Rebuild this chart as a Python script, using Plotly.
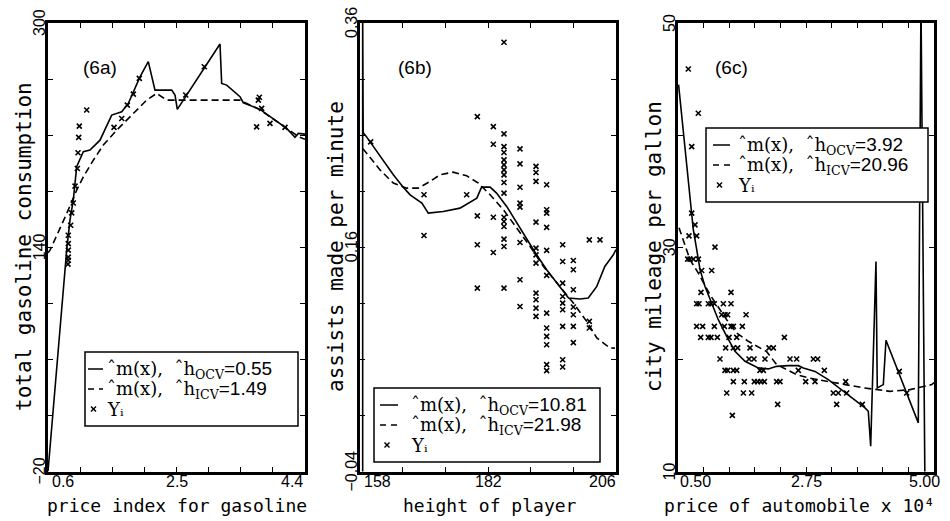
import plotly.graph_objects as go

W, H = 950, 521

# ---------------- Panel (6a) ----------------
a_solid_x = [0.6, 0.876, 0.925, 0.974, 1.024, 1.122, 1.221, 1.369, 1.542, 1.690, 1.787, 1.960, 2.083,
             2.182, 2.429, 2.478, 2.512, 3.143, 3.168, 3.242, 3.439, 3.488, 3.735, 3.931, 4.129, 4.252, 4.301, 4.4]
a_solid_y = [-20, 137.9, 159.3, 173.6, 197.4, 208.1, 209.3, 216.4, 234.3, 236.6, 242.6, 261.6, 272.4,
             252.1, 252.1, 248.6, 238.4, 285.0, 256.9, 255.7, 247.4, 243.1, 238.4, 231.9, 224.8, 218.4, 221.2, 220.7]
a_dash_x = [0.6, 0.63, 0.876, 1.024, 1.122, 1.270, 1.418, 1.616, 1.764, 1.912, 2.059, 2.207, 2.355,
            2.552, 2.947, 3.439, 3.538, 3.735, 3.931, 4.129, 4.301, 4.4]
a_dash_y = [136, 137.9, 164, 180.7, 190.2, 202.1, 212.9, 223.6, 230.7, 237.9, 245, 249.8, 245,
            245, 245, 245, 242.6, 238.0, 231.5, 224.5, 219, 217]
a_pts_x = [1.172, 1.063, 1.054, 1.044, 1.034, 1.000, 0.974, 0.950, 0.935, 0.900, 0.900, 0.900, 0.900, 0.900, 0.895,
           1.576, 1.690, 1.773, 1.862, 1.950, 2.636, 2.911, 3.685, 3.710, 3.725, 3.759, 3.882, 4.104]
a_pts_y = [237.9, 226.4, 218.4, 207.4, 196.2, 183.6, 171.6, 164.5, 155.7, 148.6, 142.6, 137.9, 133.0, 130.7, 128.0,
           225.5, 231.9, 241.4, 249.3, 260.5, 248.6, 268.8, 225.9, 245.0, 247.0, 239.1, 228.4, 225.5]

# ---------------- Panel (6b) ----------------
b_solid_x = [158.5, 158.5, 158.6, 159.1, 161.75, 164.25, 166.1, 167.4, 169.6, 170.8, 173.6, 176.75, 179.9,
             180.8, 182.4, 183.6, 185.5, 187.4, 189.25, 191.1, 193.0, 195.5, 197.1, 199.25, 200.8, 202.4,
             203.9, 205.5, 206.0]
b_solid_y = [-0.05, 0.37, 0.262, 0.2593, 0.2409, 0.2246, 0.2136, 0.2068, 0.1993, 0.1904, 0.1919, 0.1949, 0.2038,
             0.2136, 0.2136, 0.2083, 0.1964, 0.1815, 0.1667, 0.1533, 0.1399, 0.1251, 0.1147, 0.1138, 0.1147, 0.1251,
             0.1429, 0.1533, 0.158]
b_dash_x = [158.5, 159.25, 161.75, 164.25, 166.75, 168.9, 171.1, 173.0, 175.5, 178.0, 180.2, 182.4, 184.9,
            187.4, 189.9, 192.4, 194.9, 198.0, 200.5, 202.4, 204.9, 205.8]
b_dash_y = [0.248, 0.2439, 0.229, 0.2172, 0.2127, 0.2127, 0.2186, 0.2246, 0.227, 0.2237, 0.2172, 0.2068, 0.1934,
            0.1771, 0.1607, 0.1429, 0.1281, 0.1103, 0.0939, 0.0791, 0.0701, 0.070]
b_pts_x = [160, 170, 170, 178,
           180, 180, 180, 180,
           183, 183, 183, 183,
           185, 185, 185, 185, 185, 185, 185, 185, 185, 185, 185, 185, 185, 185, 185, 185,
           188, 188, 188, 188, 188, 188, 188, 188,
           191, 191, 191, 191, 191, 191, 191, 191, 191, 191, 191,
           193, 193, 193, 193, 193, 193, 193, 193, 193, 193, 193, 193,
           196, 196, 196, 196, 196, 196, 196, 196, 196,
           198, 198, 198, 198, 198, 198, 198,
           201, 201, 201, 203]
b_pts_y = [0.254, 0.2068, 0.1705, 0.2068,
           0.2765, 0.188, 0.1622, 0.1236,
           0.2676, 0.2519, 0.1868, 0.1553,
           0.3428, 0.2611, 0.2498, 0.2445, 0.2379, 0.2335, 0.229, 0.2246, 0.2177, 0.2083, 0.1868, 0.183, 0.1785,
           0.1672, 0.1607, 0.1236,
           0.2477, 0.2343, 0.2135, 0.1993, 0.1958, 0.1642, 0.131, 0.1072,
           0.2321, 0.2267, 0.2187, 0.1824, 0.1592, 0.1532, 0.1458, 0.1191, 0.1132, 0.1057, 0.0983,
           0.2157, 0.1934, 0.1904, 0.1777, 0.1572, 0.1349, 0.1013, 0.088, 0.0805, 0.073, 0.0553, 0.050,
           0.1622, 0.1473, 0.128, 0.1161, 0.1102, 0.1043, 0.0894, 0.0597, 0.0532,
           0.1482, 0.1399, 0.1221, 0.1067, 0.0998, 0.0894, 0.075,
           0.1666, 0.0939, 0.088, 0.1666]

# ---------------- Panel (6c) ----------------
c_solid_x = [0.51, 0.769, 0.829, 0.887, 0.975, 1.092, 1.208, 1.356, 1.502, 1.678, 1.911, 2.087, 2.235, 2.439,
             2.615, 2.703, 2.908, 3.142, 3.377, 3.611, 3.787, 3.845, 3.887, 3.980, 4.003, 4.109, 4.156, 4.724,
             4.771, 4.842]
c_solid_y = [44.5, 31.56, 29.78, 28.0, 26.5, 25.03, 23.54, 22.05, 20.72, 19.83, 19.24, 19.15, 19.38, 19.44,
             19.44, 19.24, 18.93, 18.19, 17.30, 16.41, 15.67, 15.37, 12.25, 28.73, 17.46, 17.75, 21.70, 14.34,
             52.0, 8.0]
c_dash_x = [0.518, 0.593, 0.711, 0.857, 1.062, 1.356, 1.532, 1.736, 2.059, 2.235, 2.587, 2.790, 3.290, 3.757,
            4.227, 4.578, 4.960, 5.0]
c_dash_y = [31.74, 30.67, 28.89, 27.70, 25.77, 23.54, 22.35, 21.61, 20.69, 19.53, 18.64, 18.35, 17.90, 17.46,
            17.15, 17.30, 17.75, 17.93]
c_pts_x = [0.681, 0.857, 0.741, 0.741, 0.799,
           0.693, 0.828, 1.150,
           0.670, 0.711, 0.770, 0.858,
           0.916, 1.092, 0.904, 1.432,
           0.828, 0.869, 1.033, 1.080, 1.139, 1.297, 1.432,
           1.268, 1.326, 1.373, 1.696,
           0.828, 0.934, 1.139, 1.315, 1.432, 1.473, 1.631,
           0.899, 1.033, 1.080, 1.192, 1.397, 1.532, 2.370,
           1.338, 1.473, 1.549, 1.766, 2.100, 2.176,
           1.238, 1.748, 1.836, 2.029, 2.469, 2.586, 2.879, 2.955,
           1.326, 1.373, 1.473, 1.532, 1.941, 2.000, 2.615, 3.072,
           1.473, 1.666, 1.842, 1.900, 1.959, 2.018, 2.234, 2.293, 2.744, 2.908, 3.447,
           1.356, 1.649, 1.795, 3.230, 3.318, 3.465,
           2.252, 3.289, 3.740, 1.455, 4.390, 4.520]
c_pts_y = [45.9, 41.95, 38.98, 33.04, 32.0,
           31.02, 31.02, 30.01,
           28.94, 28.94, 28.94, 28.94,
           27.93, 27.93, 25.97, 25.97,
           24.96, 24.96, 24.96, 24.96, 24.96, 24.96, 24.96,
           23.98, 23.98, 23.98, 23.98,
           22.94, 22.94, 22.94, 22.94, 22.94, 22.94, 22.94,
           21.96, 21.96, 21.96, 21.96, 21.96, 21.96, 21.96,
           21.02, 21.02, 21.02, 21.02, 21.02, 21.02,
           20.03, 20.03, 20.03, 20.03, 20.03, 20.03, 20.03, 20.03,
           19.02, 19.02, 19.02, 19.02, 19.02, 19.02, 19.02, 19.02,
           18.01, 18.01, 18.01, 18.01, 18.01, 18.01, 18.01, 18.01, 18.01, 18.01, 18.01,
           17.0, 17.0, 17.0, 17.0, 17.0, 17.0,
           15.99, 15.99, 15.99, 15.01, 18.93, 17.0]

# ---------------- Panel specs ----------------
panels = [
    dict(tag="(6a)", xr=[0.6, 4.4], yr=[-20, 300], xstep=0.475, ystep=40,
         xlab=["0.6", "2.5", "4.4"], xlabv=[0.6, 2.5, 4.4],
         ylab=["\u221220", "140", "300"], ylabv=[-20, 140, 300],
         xtitle="price index for gasoline", ytitle="total gasoline consumption",
         h_ocv="0.55", h_icv="1.49",
         solid=(a_solid_x, a_solid_y), dash=(a_dash_x, a_dash_y), pts=(a_pts_x, a_pts_y),
         px=(48, 305), tagpos=(100, 67), xlshift=(2, 0, 0), xtshift=0,
         leg=dict(box=(85, 352, 213, 74), samp=(3, 18), txt=21)),
    dict(tag="(6b)", xr=[158, 206], yr=[-0.04, 0.36], xstep=8, ystep=0.05,
         xlab=["158", "182", "206"], xlabv=[158, 182, 206],
         ylab=["\u22120.04", "0.16", "0.36"], ylabv=[-0.04, 0.16, 0.36],
         xtitle="height of player", ytitle="assists made per minute",
         h_ocv="10.81", h_icv="21.98",
         solid=(b_solid_x, b_solid_y), dash=(b_dash_x, b_dash_y), pts=(b_pts_x, b_pts_y),
         px=(360, 616), tagpos=(415, 67), xlshift=(2, 0, 2), xtshift=2,
         leg=dict(box=(374, 388, 226, 74), samp=(6, 24), txt=36)),
    dict(tag="(6c)", xr=[0.5, 5.0], yr=[10, 50], xstep=0.45, ystep=10,
         xlab=["0.50", "2.75", "5.00"], xlabv=[0.5, 2.75, 5.0],
         ylab=["10", "30", "50"], ylabv=[10, 30, 50],
         xtitle="price of automobile x 10\u2074", ytitle="city mileage per gallon",
         h_ocv="3.92", h_icv="20.96",
         solid=(c_solid_x, c_solid_y), dash=(c_dash_x, c_dash_y), pts=(c_pts_x, c_pts_y),
         px=(678, 934), tagpos=(731, 67), xlshift=(0, 0, 8), xtshift=-7,
         leg=dict(box=(706, 128, 222, 74), samp=(7, 24), txt=31)),
]
LEG_ROWS = [17, 37, 57]   # row centres below legend-box top (px)

TOP, BOT = 23, 471.5
fig = go.Figure()
annotations = []
shapes = []
layout = dict(width=W, height=H, margin=dict(l=0, r=0, t=0, b=0),
              paper_bgcolor="white", plot_bgcolor="white", showlegend=False)

tick_font = dict(family="Liberation Sans", size=16, color="black")
title_font_x = dict(family="DejaVu Sans Mono", size=18, color="black")
title_font_y = dict(family="DejaVu Sans Mono", size=21, color="black")
leg_font = dict(family="DejaVu Serif", size=18, color="black")
NUM_STYLE = "font-family:Liberation Sans;font-size:19px"


def px2x(v):
    return v / W


def py2y(v):
    return 1 - v / H


for i, p in enumerate(panels):
    n = i + 1
    xa = "x" if n == 1 else f"x{n}"
    ya = "y" if n == 1 else f"y{n}"
    x0, x1 = p["px"]
    nx = round((p["xr"][1] - p["xr"][0]) / p["xstep"])
    ny = round((p["yr"][1] - p["yr"][0]) / p["ystep"])
    xt = [p["xr"][0] + k * p["xstep"] for k in range(nx + 1)]
    yt = [p["yr"][0] + k * p["ystep"] for k in range(ny + 1)]
    axis_common = dict(showline=True, linewidth=2.5, linecolor="black", mirror="allticks",
                       ticks="inside", ticklen=5, tickwidth=1.2, tickcolor="black",
                       showgrid=False, zeroline=False, showticklabels=False, fixedrange=True)
    layout["xaxis" if n == 1 else f"xaxis{n}"] = dict(
        domain=[x0 / W, x1 / W], range=p["xr"], tickvals=xt, anchor=ya, **axis_common)
    layout["yaxis" if n == 1 else f"yaxis{n}"] = dict(
        domain=[1 - BOT / H, 1 - TOP / H], range=p["yr"], tickvals=yt, anchor=xa, **axis_common)

    name_solid = ("\u02c6m(x),\u00a0\u00a0\u02c6h<sub>OCV</sub>"
                  f"<span style='{NUM_STYLE}'>={p['h_ocv']}</span>")
    name_dash = ("\u02c6m(x),\u00a0\u00a0\u02c6h<sub>ICV</sub>"
                 f"<span style='{NUM_STYLE}'>={p['h_icv']}</span>")
    name_pts = "Y\u1d62"

    fig.add_trace(go.Scatter(x=p["solid"][0], y=p["solid"][1], mode="lines",
                             line=dict(color="black", width=1.6), name=name_solid,
                             xaxis=xa, yaxis=ya))
    fig.add_trace(go.Scatter(x=p["dash"][0], y=p["dash"][1], mode="lines",
                             line=dict(color="black", width=1.6, dash="7px,4px"), name=name_dash,
                             xaxis=xa, yaxis=ya))
    fig.add_trace(go.Scatter(x=p["pts"][0], y=p["pts"][1], mode="markers",
                             marker=dict(symbol="x-thin-open", size=5, color="black",
                                         line=dict(color="black", width=1.6)),
                             name=name_pts, xaxis=xa, yaxis=ya))

    # ----- legend (boxed key inside the panel) -----
    L = p["leg"]
    bl, bt, bw, bh = L["box"]
    shapes.append(dict(type="rect", xref="paper", yref="paper",
                       x0=px2x(bl), x1=px2x(bl + bw), y0=py2y(bt + bh), y1=py2y(bt),
                       line=dict(color="black", width=1.5), fillcolor="white", layer="above"))
    s0, s1 = bl + L["samp"][0], bl + L["samp"][1]
    r1, r2, r3 = (bt + r for r in LEG_ROWS)
    shapes.append(dict(type="line", xref="paper", yref="paper", x0=px2x(s0), x1=px2x(s1),
                       y0=py2y(r1), y1=py2y(r1), line=dict(color="black", width=1.5), layer="above"))
    shapes.append(dict(type="line", xref="paper", yref="paper", x0=px2x(s0), x1=px2x(s1),
                       y0=py2y(r2), y1=py2y(r2), line=dict(color="black", width=1.5, dash="6px,5px"),
                       layer="above"))
    mc = (s0 + s1) / 2 - 2
    for dy in (-2.5, 2.5):
        shapes.append(dict(type="line", xref="paper", yref="paper", x0=px2x(mc - 2.5), x1=px2x(mc + 2.5),
                           y0=py2y(r3 - dy), y1=py2y(r3 + dy), line=dict(color="black", width=1.5),
                           layer="above"))
    tx = bl + L["txt"]
    for txt, r in zip([name_solid, name_dash, name_pts], [r1, r2, r3 - 1]):
        annotations.append(dict(text=txt, x=px2x(tx), xref="paper", y=py2y(r + 1), yref="paper",
                                xanchor="left", yanchor="middle", showarrow=False, font=leg_font,
                                borderpad=0))

    # x tick labels
    anchors = ["left", "center", "right"]
    for j, (txt, v) in enumerate(zip(p["xlab"], p["xlabv"])):
        annotations.append(dict(text=txt, x=v, xref=xa, y=py2y(481), yref="paper",
                                xanchor=anchors[j], yanchor="middle", showarrow=False,
                                xshift=p["xlshift"][j], font=tick_font))
    # y tick labels (rotated)
    for txt, v in zip(p["ylab"], p["ylabv"]):
        annotations.append(dict(text=txt, x=px2x(x0 - 9), xref="paper", y=v, yref=ya,
                                xanchor="center", yanchor="middle", textangle=-90,
                                showarrow=False, font=tick_font))
    # axis titles
    annotations.append(dict(text=p["xtitle"], x=px2x((x0 + x1) / 2 + p["xtshift"]), xref="paper",
                            y=py2y(505), yref="paper", xanchor="center", yanchor="middle",
                            showarrow=False, font=title_font_x))
    annotations.append(dict(text=p["ytitle"], x=px2x(x0 - 24), xref="paper", y=py2y(247),
                            yref="paper", xanchor="center", yanchor="middle", textangle=-90,
                            showarrow=False, font=title_font_y))
    # panel tag
    annotations.append(dict(text=p["tag"], x=px2x(p["tagpos"][0]), xref="paper", y=py2y(p["tagpos"][1]),
                            yref="paper", xanchor="center", yanchor="middle", showarrow=False,
                            font=dict(family="Liberation Sans", size=19, color="black")))

layout["annotations"] = annotations
layout["shapes"] = shapes
fig.update_layout(**layout)
fig.write_html("out.html")
